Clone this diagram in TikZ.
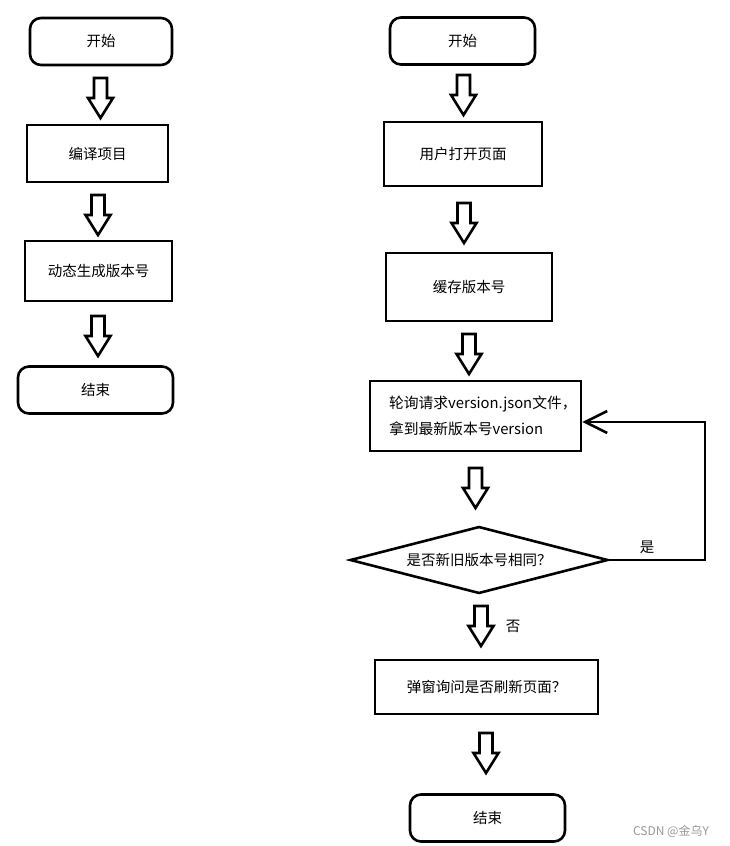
\documentclass[tikz,border=0pt]{standalone}
\usepackage{fontspec}
\setmainfont{Noto Sans CJK SC}
\usetikzlibrary{shapes.geometric,arrows.meta}
\tikzset{
  ln/.style={line width=2.6pt},
  term/.style={ln, draw, rounded corners=11pt, minimum width=#1, minimum height=47pt, inner sep=0pt, font=\fontsize{14.5}{16}\selectfont},
  procbox/.style={ln, draw, inner sep=0pt, font=\fontsize{14.5}{16}\selectfont},
  lbl/.style={font=\fontsize{14.5}{16}\selectfont},
  barrow/.pic={\draw[ln, line join=miter, fill=white] (-6.5,0) -- (6.5,0) -- (6.5,20) -- (12.5,20) -- (0,40) -- (-12.5,20) -- (-6.5,20) -- cycle;}
}
\begin{document}
\begin{tikzpicture}[x=1pt,y=-1pt]
\useasboundingbox[fill=white] (0,0) rectangle (729,846);
% left column
\node[term=142pt] (ls) at (101,41.5) {开始};
\node[procbox, minimum width=141pt, minimum height=57pt] (lb1) at (97.5,153.5) {编译项目};
\node[procbox, minimum width=147pt, minimum height=60pt] (lb2) at (98.5,271) {动态生成版本号};
\node[term=155pt] (le) at (95.5,390) {结束};
\path (100.5,78) pic {barrow};
\path (98,195) pic {barrow};
\path (98,316) pic {barrow};
% right column
\node[term=145pt] (rs) at (462.5,41) {开始};
\node[procbox, minimum width=158pt, minimum height=64pt] (rb1) at (463,154) {用户打开页面};
\node[procbox, minimum width=166pt, minimum height=68pt] (rb2) at (469,287) {缓存版本号};
\node[procbox, minimum width=211pt, minimum height=70pt, text width=205pt, align=left, inner xsep=0pt,
      font=\fontsize{14.8}{26}\selectfont] (rb3) at (475.5,416) {\mbox{\hspace*{16pt}轮询请求version.json文件，}\\\mbox{\hspace*{16pt}拿到最新版本号version}};
\node[ln, draw, diamond, minimum width=258pt, minimum height=67pt, aspect=3.85, inner sep=0pt,
      font=\fontsize{14.5}{16}\selectfont] (rd) at (479,560) {是否新旧版本号相同？};
\node[procbox, minimum width=223pt, minimum height=54pt] (rb4) at (486.5,687) {弹窗询问是否刷新页面？};
\node[term=155pt] (re) at (487.5,818) {结束};
\path (463.5,75) pic {barrow};
\path (464,203) pic {barrow};
\path (469,334) pic {barrow};
\path (475.5,468) pic {barrow};
\path (481,606) pic {barrow};
\path (486,733) pic {barrow};
% return loop
\coordinate (rc) at (705,422);
\draw[ln, line join=miter, -{Straight Barb[length=22pt,width=22pt,line width=2.6pt]}] (rd.east) -| (rc) -- (rb3.east |- rc);
\node[lbl] (yes) at (647,547) {是};
\node[lbl] (no) at (513,626) {否};
% watermark
\node[text=gray!80, font=\fontsize{12}{14}\selectfont] (wm) at (671,831) {CSDN @金乌Y};
\end{tikzpicture}
\end{document}
